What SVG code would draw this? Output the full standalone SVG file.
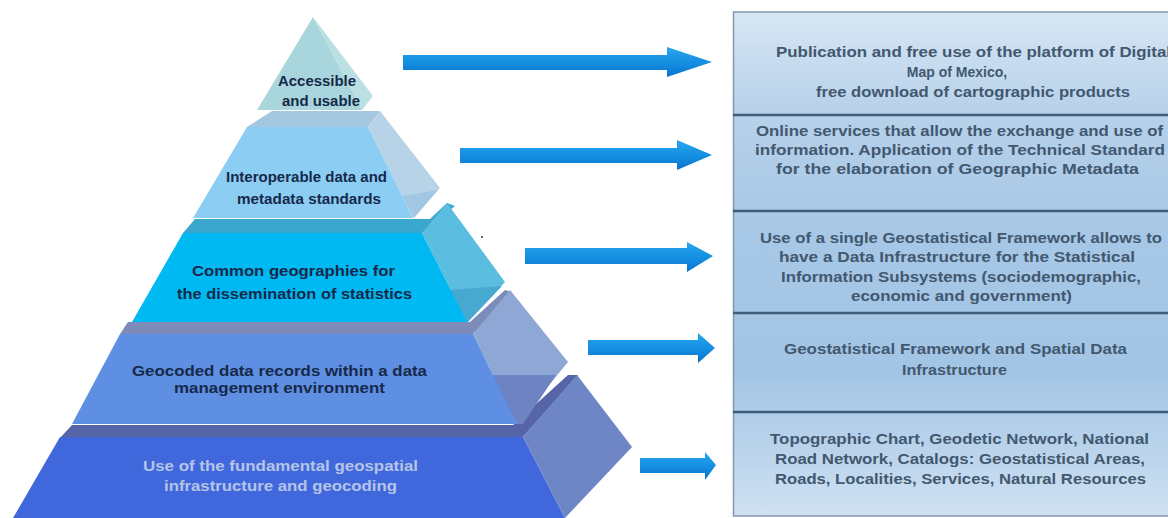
<svg xmlns="http://www.w3.org/2000/svg" width="1168" height="518" viewBox="0 0 1168 518">
  <defs>
    <linearGradient id="arrowGrad" x1="0" y1="0" x2="0" y2="1">
      <stop offset="0" stop-color="#2ba6ee"/>
      <stop offset="0.5" stop-color="#1590e2"/>
      <stop offset="1" stop-color="#0a74cc"/>
    </linearGradient>
    <linearGradient id="boxGrad" x1="0" y1="0" x2="0" y2="1">
      <stop offset="0" stop-color="#d7e6f4"/>
      <stop offset="0.2" stop-color="#b7d1ea"/>
      <stop offset="0.45" stop-color="#a6c7e6"/>
      <stop offset="0.72" stop-color="#a3c5e5"/>
      <stop offset="1" stop-color="#cfe1f2"/>
    </linearGradient>
    <style>
      .lbl { font-family: "Liberation Sans", Arial, sans-serif; font-weight: bold; font-size: 15px; fill: #16294a; }
      .lbl5 { font-family: "Liberation Sans", Arial, sans-serif; font-weight: bold; font-size: 15px; fill: #b4c5e7; }
      .desc { font-family: "Liberation Sans", Arial, sans-serif; font-weight: bold; font-size: 14px; fill: #42586f; }
      .arrow { fill: url(#arrowGrad); }
      .sep { stroke: #3f5c79; stroke-width: 2.5; }
    </style>
  </defs>
  <rect width="1168" height="518" fill="#ffffff"/>

  <!-- Pyramid: bottom layer first -->
  <g id="layer5">
    <polygon points="60,438 72,425 513,425 568,375 578,375 523,437" fill="#5565a8"/>
    <polygon points="60,437 523,437 565,518 13,518" fill="#4167dc"/>
    <polygon points="523,437 577,375 632,447 565,518" fill="#6f86c6"/>
    <text class="lbl5" x="143" y="471" textLength="275" lengthAdjust="spacingAndGlyphs">Use of the fundamental geospatial</text>
    <text class="lbl5" x="164" y="491" textLength="233" lengthAdjust="spacingAndGlyphs">infrastructure  and geocoding</text>
  </g>

  <g id="layer4">
    <polygon points="120,334 128,322 470,322 505,290 512,292 473,334" fill="#7d8bba"/>
    <polygon points="473,334 510,290 568,362 517,424" fill="#8fa7d5"/>
    <polygon points="490,375 556,375 523,424 517,424" fill="#6d83c2"/>
    <polygon points="120,334 473,334 517,424 72,424" fill="#5f8fe2"/>
    <text class="lbl" x="132" y="376" textLength="295" lengthAdjust="spacingAndGlyphs">Geocoded data records within a data</text>
    <text class="lbl" x="174" y="393" textLength="211" lengthAdjust="spacingAndGlyphs">management environment</text>
  </g>

  <g id="layer3">
    <polygon points="183,233 195,219 430,219 447,203 455,206 422,233" fill="#3ba7cf"/>
    <polygon points="422,233 447,203 505,282 467,322" fill="#5bbddf"/>
    <polygon points="450,290 502,286 468,322 464,322" fill="#47a9d0"/>
    <polygon points="183,233 422,233 467,322 132,322" fill="#00b9f2"/>
    <text class="lbl" x="192" y="276" textLength="203" lengthAdjust="spacingAndGlyphs">Common geographies for</text>
    <text class="lbl" x="177" y="299" textLength="235" lengthAdjust="spacingAndGlyphs">the dissemination of statistics</text>
    <circle cx="482" cy="237" r="1" fill="#333333"/>
  </g>

  <g id="layer2">
    <polygon points="247,127 272,111 380,111 368,127" fill="#a4c7e0"/>
    <polygon points="368,127 380,111 440,188 413,218" fill="#b7d3e8"/>
    <polygon points="402,196 438,190 414,218" fill="#a2c7e2"/>
    <polygon points="247,127 368,127 413,218 193,218" fill="#8ccdf4"/>
    <text class="lbl" x="226" y="182" textLength="161" lengthAdjust="spacingAndGlyphs">Interoperable data and</text>
    <text class="lbl" x="237" y="204" textLength="144" lengthAdjust="spacingAndGlyphs">metadata standards</text>
  </g>

  <g id="layer1">
    <polygon points="313,17 373,96 362,110" fill="#bbe0e4"/>
    <polygon points="313,17 362,110 257,110" fill="#a9d6dc"/>
    <text class="lbl" x="278" y="86" textLength="78" lengthAdjust="spacingAndGlyphs">Accessible</text>
    <text class="lbl" x="282" y="106" textLength="78" lengthAdjust="spacingAndGlyphs">and usable</text>
  </g>

  <!-- Connectors -->
  <g id="connectors">
    <path class="arrow" d="M403,55 H667 V47 L712,62 L667,77 V70 H403 Z"/>
    <path class="arrow" d="M460,148 H677 V140 L712,155 L677,170 V163 H460 Z"/>
    <path class="arrow" d="M525,248 H687 V242 L713,256 L687,272 V264 H525 Z"/>
    <path class="arrow" d="M588,340 H698 V333 L715,348 L698,363 V355 H588 Z"/>
    <path class="arrow" d="M640,458 H705 V452 L716,465 L705,480 V473 H640 Z"/>
  </g>

  <!-- Description table -->
  <g id="table">
    <rect x="733.5" y="12" width="440" height="504" fill="url(#boxGrad)" stroke="#8497ad" stroke-width="1.5"/>
    <line class="sep" x1="733" y1="115" x2="1168" y2="115"/>
    <line class="sep" x1="733" y1="211" x2="1168" y2="211"/>
    <line class="sep" x1="733" y1="313" x2="1168" y2="313"/>
    <line class="sep" x1="733" y1="412" x2="1168" y2="412"/>
  </g>

  <g id="row1">
    <text class="desc" x="776" y="57" textLength="395" lengthAdjust="spacingAndGlyphs">Publication and free use of the platform of Digital</text>
    <text class="desc" x="957" y="77" text-anchor="middle">Map of Mexico,</text>
    <text class="desc" x="816" y="97" textLength="314" lengthAdjust="spacingAndGlyphs">free download of cartographic products</text>
  </g>
  <g id="row2">
    <text class="desc" x="756" y="136" textLength="407" lengthAdjust="spacingAndGlyphs">Online services that allow the exchange and use of</text>
    <text class="desc" x="755" y="155" textLength="410" lengthAdjust="spacingAndGlyphs">information. Application of the Technical Standard</text>
    <text class="desc" x="776" y="174" textLength="363" lengthAdjust="spacingAndGlyphs">for the elaboration of Geographic Metadata</text>
  </g>
  <g id="row3">
    <text class="desc" x="760" y="243" textLength="402" lengthAdjust="spacingAndGlyphs">Use of a single Geostatistical  Framework allows to</text>
    <text class="desc" x="779" y="262" textLength="356" lengthAdjust="spacingAndGlyphs">have a Data Infrastructure  for the Statistical</text>
    <text class="desc" x="781" y="282" textLength="360" lengthAdjust="spacingAndGlyphs">Information  Subsystems  (sociodemographic,</text>
    <text class="desc" x="851" y="301" textLength="221" lengthAdjust="spacingAndGlyphs">economic and government)</text>
  </g>
  <g id="row4">
    <text class="desc" x="784" y="354" textLength="343" lengthAdjust="spacingAndGlyphs">Geostatistical  Framework and Spatial Data</text>
    <text class="desc" x="902" y="375" textLength="105" lengthAdjust="spacingAndGlyphs">Infrastructure</text>
  </g>
  <g id="row5">
    <text class="desc" x="770" y="444" textLength="379" lengthAdjust="spacingAndGlyphs">Topographic Chart, Geodetic Network, National</text>
    <text class="desc" x="775" y="464" textLength="370" lengthAdjust="spacingAndGlyphs">Road Network, Catalogs: Geostatistical  Areas,</text>
    <text class="desc" x="775" y="484" textLength="371" lengthAdjust="spacingAndGlyphs">Roads, Localities, Services, Natural Resources</text>
  </g>
</svg>
